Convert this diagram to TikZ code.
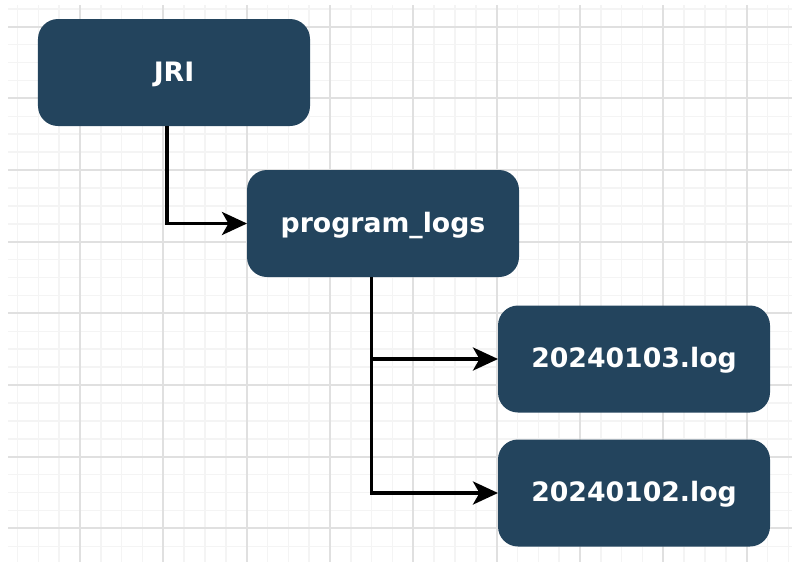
\documentclass[tikz,border=0pt]{standalone}
\usepackage{fontspec}
\setmainfont{DejaVu Sans}
\usetikzlibrary{arrows.meta}
\definecolor{boxblue}{HTML}{23445D}
\definecolor{gridmajor}{HTML}{E0E0E0}
\definecolor{gridminor}{HTML}{F4F4F4}
\begin{document}
\begin{tikzpicture}[
		folder/.style={
			fill=boxblue, rounded corners=0.4cm, outer sep=0pt,
			minimum width=5.44cm, minimum height=2.14cm,
			text=white, font=\fontsize{15.2}{18}\selectfont\bfseries,
			text height=1.9ex, text depth=0.05ex
		},
		link/.style={line width=0.07cm, -{Stealth[length=0.5cm,width=0.46cm,inset=0.13cm]}}
	]
		\useasboundingbox (0,0) rectangle (15.84,-11.22);
		% background grid
		\begin{scope}
			\clip (0.16,-0.1) rectangle (15.84,-11.22);
			\begin{scope}[shift={(-0.0667,0.9)}]
				\draw[gridminor, line width=0.03cm, xstep=0.41667, ystep=0.35833]
					(-1,1) grid (17,-13);
				\draw[gridmajor, line width=0.035cm, xstep=1.66667, ystep=1.43333]
					(-1,1) grid (17,-13);
			\end{scope}
		\end{scope}

		\node[folder](jri) at (3.48,-1.45){JRI};
		\node[folder](logs) at (7.66,-4.47){program\_logs};
		\matrix[row sep=0.54cm] (files) at (12.68,-8.52) {
			\node[folder](log3){20240103.log}; \\
			\node[folder](log2){20240102.log}; \\
		};

		\draw[link] ([xshift=-0.14cm]jri.south) |- (logs.west);
		\draw[link] ([xshift=-0.23cm]logs.south) |- (log3.west);
		\draw[link] ([xshift=-0.23cm]logs.south) |- (log2.west);

	\end{tikzpicture}
\end{document}
